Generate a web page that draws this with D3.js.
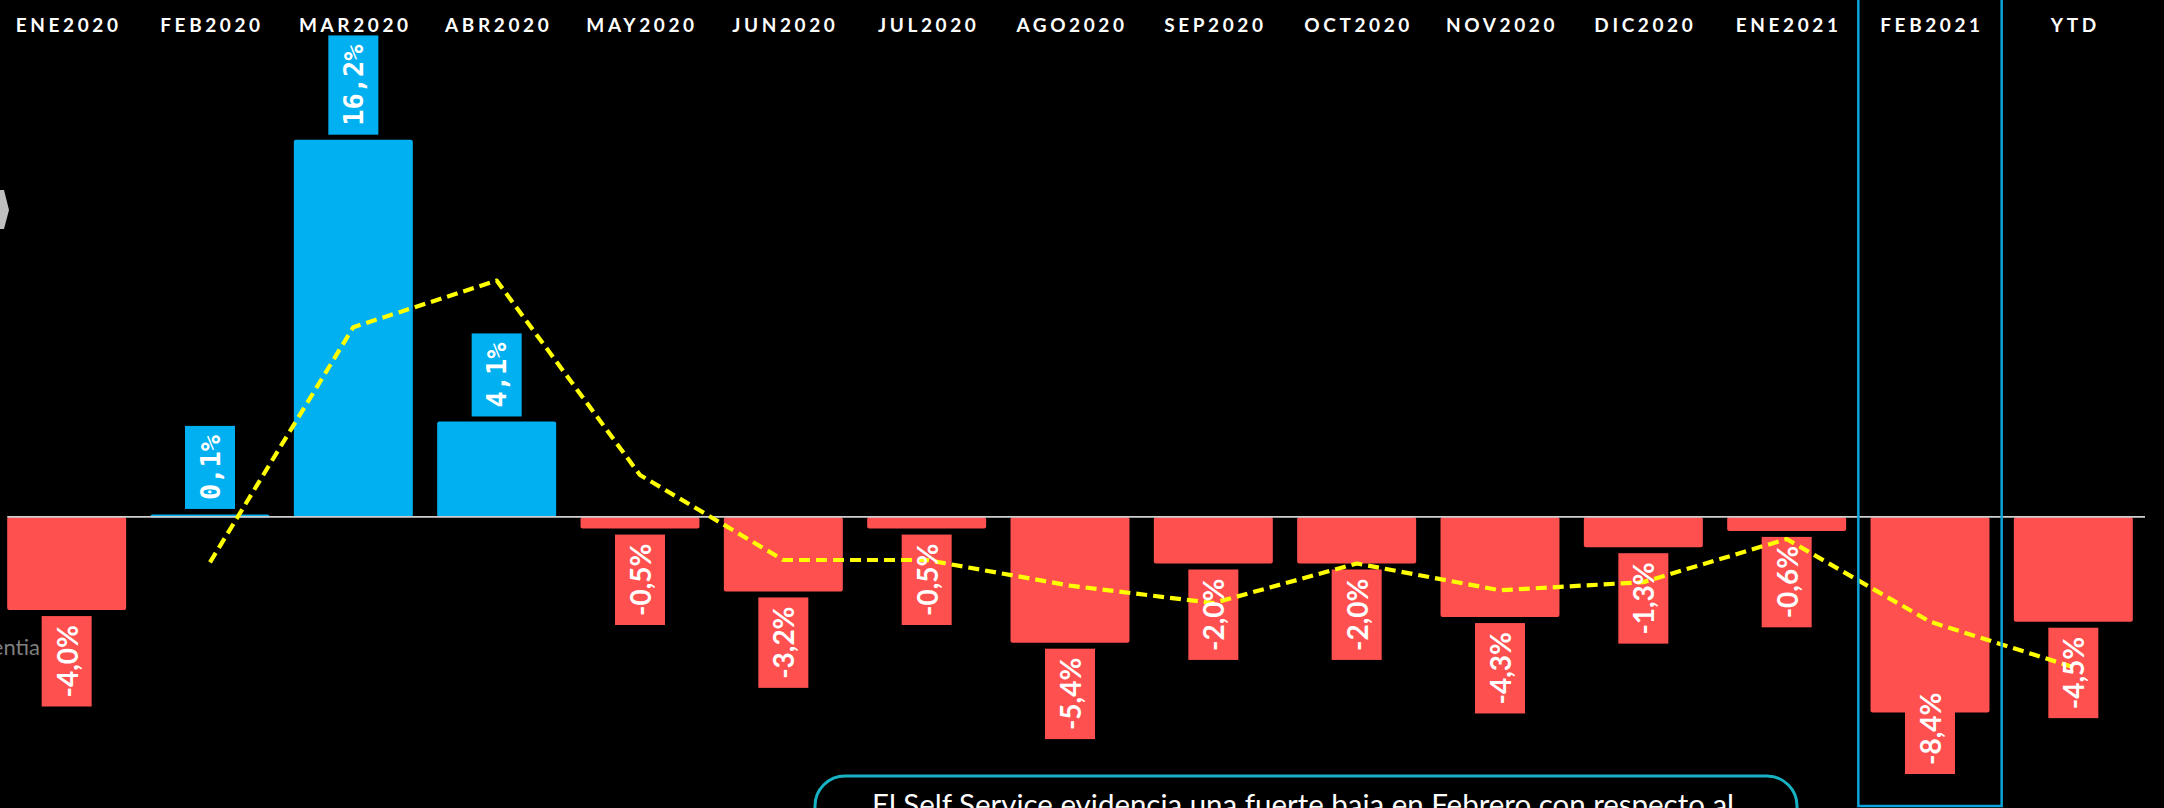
<!DOCTYPE html>
<html>
<head>
<meta charset="utf-8">
<script src="https://cdn.jsdelivr.net/npm/d3@7"></script>
<style>
  html, body { margin: 0; padding: 0; background: #000; }
  svg { display: block; }
</style>
</head>
<body>
<svg class="bar-chart-svg"></svg>
<script>
// monthly variation
const categories = ['ENE2020', 'FEB2020', 'MAR2020', 'ABR2020', 'MAY2020', 'JUN2020', 'JUL2020',
  'AGO2020', 'SEP2020', 'OCT2020', 'NOV2020', 'DIC2020', 'ENE2021', 'FEB2021', 'YTD'];
const values = [-4.0, 0.1, 16.2, 4.1, -0.5, -3.2, -0.5, -5.4, -2.0, -2.0, -4.3, -1.3, -0.6, -8.4, -4.5];
const valueLabels = ['-4,0%', '0,1%', '16,2%', '4,1%', '-0,5%', '-3,2%', '-0,5%', '-5,4%', '-2,0%',
  '-2,0%', '-4,3%', '-1,3%', '-0,6%', '-8,4%', '-4,5%'];
// dashed trend line (no point for the first month)
const trendValues = [null, -1.95, 8.15, 10.15, 1.8, -1.85, -1.85, -2.95, -3.7, -2.0, -3.15, -2.8, -0.95, -4.5, -6.45];
const highlighted = 'FEB2021';
const commentText = 'El Self Service evidencia una fuerte baja en Febrero con respecto al';

const width = 2164;
const height = 808;
const labelFloor = 774;

const svg = d3.select('.bar-chart-svg')
  .attr('width', width)
  .attr('height', height);

const x = d3.scaleBand()
  .domain(categories)
  .range([-5, 2145])
  .paddingInner(0.17)
  .paddingOuter(0.085);

const y = d3.scaleLinear()
  .domain([-12.5, 22.2])
  .range([height, 0]);

const step = x.step();
const cx = (d) => x(d) + x.bandwidth() / 2;
const color = (v) => v >= 0 ? '#00b0f0' : '#ff5050';

// header labels
svg.append('g')
  .selectAll('text')
  .data(categories)
  .enter()
  .append('text')
  .attr('x', (d) => cx(d) + 2)
  .attr('y', 32)
  .attr('text-anchor', 'middle')
  .attr('fill', '#ffffff')
  .style('font-family', 'Lato, "Open Sans", sans-serif')
  .style('font-weight', 700)
  .style('font-size', '19px')
  .style('letter-spacing', '3.6px')
  .text((d) => d);

// left-edge leftovers of the slide
svg.append('polygon')
  .attr('points', '0,190 4,190 9,210 4,229 0,229')
  .attr('fill', '#bfbfbf');

svg.append('text')
  .attr('x', 40)
  .attr('y', 655)
  .attr('text-anchor', 'end')
  .attr('fill', '#7f7f7f')
  .style('font-family', 'Lato, sans-serif')
  .style('font-size', '22px')
  .text('entia');

// bars
svg.append('g')
  .selectAll('rect')
  .data(categories)
  .enter()
  .append('rect')
  .attr('x', (d) => x(d))
  .attr('width', x.bandwidth())
  .attr('y', (d, i) => Math.min(y(values[i]), y(0)))
  .attr('height', (d, i) => Math.max(Math.abs(y(values[i]) - y(0)), 3))
  .attr('rx', 2)
  .attr('fill', (d, i) => color(values[i]));

// zero line
svg.append('line')
  .attr('x1', x(categories[0]))
  .attr('x2', x.range()[1])
  .attr('y1', y(0))
  .attr('y2', y(0))
  .attr('stroke', '#cfcfcf')
  .attr('stroke-width', 1.8);

// data labels (boxes sized from the text); positive ones use a mono face like the original
const labelG = svg.append('g');
const labelTexts = labelG.selectAll('text')
  .data(categories)
  .enter()
  .append('text')
  .attr('text-anchor', 'middle')
  .attr('dominant-baseline', 'central')
  .attr('fill', '#ffffff')
  .style('font-family', (d, i) => values[i] >= 0 ? '"DejaVu Sans Mono", monospace' : 'Lato, "Open Sans", sans-serif')
  .style('font-weight', 700)
  .style('font-size', (d, i) => values[i] >= 0 ? '27px' : '28px')
  .text((d, i) => valueLabels[i]);

const boxes = [];
labelTexts.each(function (d, i) {
  const len = this.getComputedTextLength();
  const h = len + 18;
  const w = 50;
  let top;
  if (values[i] >= 0) {
    top = Math.min(y(values[i]), y(0) - 3) - 5 - h;
  } else {
    top = y(values[i]) + 6;
    if (top + h > labelFloor) top = labelFloor - h;
  }
  boxes.push({ x: cx(d) - w / 2, y: top, w: w, h: h, c: color(values[i]) });
});

labelG.insert('g', 'text')
  .selectAll('rect')
  .data(boxes)
  .enter()
  .append('rect')
  .attr('x', (d) => d.x)
  .attr('y', (d) => d.y)
  .attr('width', (d) => d.w)
  .attr('height', (d) => d.h)
  .attr('fill', (d) => d.c);

labelTexts
  .attr('transform', (d, i) => `translate(${cx(d)},${boxes[i].y + boxes[i].h / 2}) rotate(-90)`);

// dashed trend line, drawn over the boxes but under the label text
const line = d3.line()
  .defined((d) => d.v !== null)
  .x((d) => cx(d.c))
  .y((d) => y(d.v));

labelG.insert('path', 'text')
  .datum(categories.map((c, i) => ({ c: c, v: trendValues[i] })).filter((d) => d.v !== null))
  .attr('d', line)
  .attr('fill', 'none')
  .attr('stroke', '#ffff00')
  .attr('stroke-width', 4.2)
  .attr('stroke-linejoin', 'round')
  .attr('stroke-dasharray', '11,6');

// highlight box around the current month
svg.append('rect')
  .attr('x', cx(highlighted) - step / 2)
  .attr('y', -3)
  .attr('width', step)
  .attr('height', 809)
  .attr('fill', 'none')
  .attr('stroke', '#0aa3dc')
  .attr('stroke-width', 2.5);

// comment box at the bottom
svg.append('rect')
  .attr('x', 815)
  .attr('y', 776)
  .attr('width', 982)
  .attr('height', 90)
  .attr('rx', 30)
  .attr('fill', '#000000')
  .attr('stroke', '#17b3c4')
  .attr('stroke-width', 3);

svg.append('text')
  .attr('x', 1303)
  .attr('y', 815)
  .attr('text-anchor', 'middle')
  .attr('fill', '#ffffff')
  .attr('textLength', 862)
  .attr('lengthAdjust', 'spacingAndGlyphs')
  .style('font-family', 'Lato, "Open Sans", sans-serif')
  .style('font-size', '29px')
  .text(commentText);
</script>
</body>
</html>
